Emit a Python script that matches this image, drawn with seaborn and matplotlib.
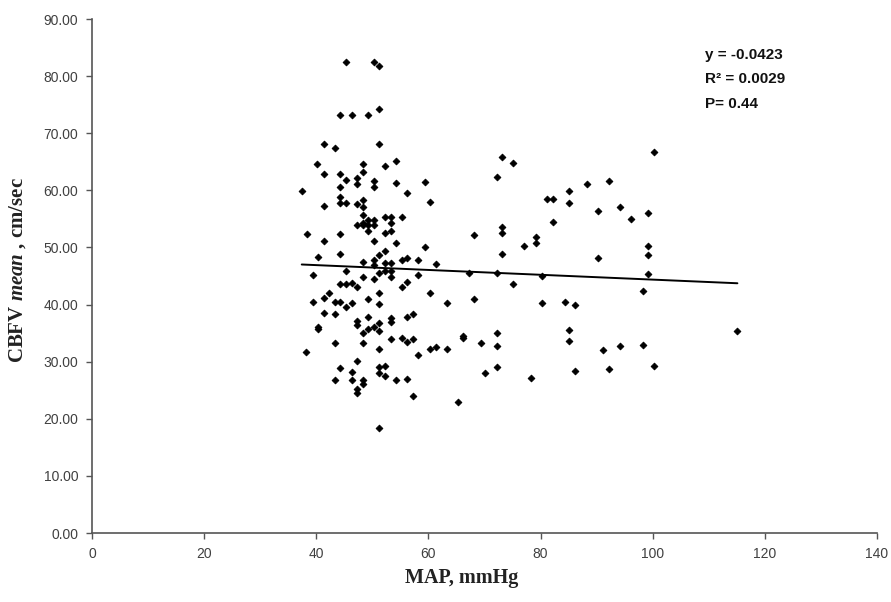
import matplotlib
matplotlib.use("Agg")
import matplotlib.pyplot as plt
import seaborn as sns
import numpy as np
import pandas as pd

# MAP (mmHg) and CBFV mean (cm/sec)
map_mmhg = [
    45.3, 50.2, 51.2, 44.2, 46.3, 49.3, 51.2, 41.3, 43.3, 51.2, 40.2, 48.3, 48.3, 52.3, 54.2,
    41.3, 44.2, 45.3, 47.3, 47.3, 50.2, 50.2, 54.2, 59.3, 44.2, 37.4, 56.2, 44.2, 44.2, 45.3,
    48.3, 47.3, 48.3, 60.3, 41.3, 48.3, 52.3, 53.3, 55.3, 48.3, 49.3, 50.2, 47.3, 48.3, 49.3,
    50.2, 53.3, 49.3, 52.3, 53.3, 38.3, 44.2,
    41.3, 50.2, 54.2, 59.3, 40.3, 44.2, 51.2, 52.3, 48.3, 50.2, 50.2, 52.3, 53.3, 55.3, 56.2,
    58.2, 61.3, 39.4, 45.3, 48.3, 50.2, 51.2, 52.3, 53.3, 53.3, 56.2, 55.3, 58.2, 44.2, 45.3,
    46.3, 47.3, 42.3, 51.2, 60.2, 39.4, 41.3, 43.3, 44.2, 46.3, 45.3, 49.3, 51.2, 41.3, 43.3,
    47.3, 47.3, 49.3, 53.3, 53.3, 56.2, 57.2, 51.2, 49.3, 50.2, 48.3, 51.2, 40.3, 40.3, 43.3,
    48.3, 51.2, 53.3, 55.3, 56.2, 57.2, 38.2, 58.2, 60.2, 61.3, 47.3, 44.2, 46.3, 51.2, 52.3,
    51.2, 52.3, 43.3, 46.3, 48.3, 48.3, 47.3, 47.3, 54.2, 56.2, 57.2, 51.2,
    73.1, 75.1, 72.2, 85.1, 85.1, 81.2, 82.2, 82.2, 68.2, 73.1, 73.1, 77.1, 79.2, 79.2, 73.1,
    67.3, 72.2, 80.2, 75.1, 63.3, 68.2, 80.2, 84.3, 86.1, 85.1, 85.1, 66.2, 66.2, 69.3, 72.2,
    72.2, 63.3, 70.1, 72.2, 78.3, 86.1, 65.3,
    88.2, 92.2, 100.3, 90.2, 94.2, 96.2, 99.1, 99.1, 99.1, 90.2, 99.1, 98.2, 91.1, 94.2, 98.2,
    92.2, 100.3, 115.1,
]
cbfv_mean = [
    82.5, 82.4, 81.8, 73.2, 73.2, 73.2, 74.2, 68.1, 67.5, 68.1, 64.7, 64.6, 63.3, 64.3, 65.1,
    62.8, 62.8, 61.8, 62.1, 61.1, 61.6, 60.6, 61.2, 61.5, 60.6, 59.8, 59.6, 58.9, 57.8, 57.8,
    58.3, 57.6, 57.1, 58.0, 57.3, 55.7, 55.4, 55.4, 55.4, 54.3, 54.8, 54.8, 53.9, 53.9, 53.9,
    53.9, 54.3, 52.8, 52.5, 52.9, 52.3, 52.3,
    51.2, 51.2, 50.8, 50.1, 48.4, 48.9, 48.6, 49.3, 47.5, 47.8, 46.9, 47.2, 47.2, 47.8, 48.1,
    47.8, 47.1, 45.1, 45.9, 44.9, 44.4, 45.6, 45.8, 45.8, 44.9, 44.0, 43.0, 45.1, 43.6, 43.6,
    43.8, 43.0, 42.1, 42.1, 42.1, 40.5, 41.1, 40.5, 40.5, 40.3, 39.5, 40.9, 40.1, 38.6, 38.3,
    37.2, 36.5, 37.8, 37.6, 37.0, 37.9, 38.3, 36.7, 35.8, 36.1, 35.0, 35.3, 36.1, 35.7, 33.3,
    33.2, 32.3, 33.9, 34.1, 33.5, 33.9, 31.7, 31.2, 32.2, 32.6, 30.1, 28.9, 28.2, 29.1, 29.2,
    28.1, 27.5, 26.8, 26.8, 26.8, 26.1, 25.3, 24.5, 26.8, 26.9, 24.0, 18.4,
    65.9, 64.8, 62.4, 59.9, 57.8, 58.5, 58.5, 54.5, 52.1, 53.6, 52.6, 50.3, 51.8, 50.7, 48.9,
    45.6, 45.6, 45.0, 43.6, 40.2, 40.9, 40.2, 40.4, 40.0, 35.5, 33.7, 34.5, 34.2, 33.3, 35.1,
    32.7, 32.3, 28.1, 29.0, 27.1, 28.3, 22.9,
    61.1, 61.7, 66.7, 56.4, 57.0, 55.0, 56.0, 50.3, 48.6, 48.2, 45.4, 42.3, 32.1, 32.7, 32.9,
    28.8, 29.2, 35.4,
]

# Linear fit shown in the reference
fit_intercept = 48.6
fit_slope = -0.0423
annot_lines = ["y = -0.0423", "R\u00b2 = 0.0029", "P= 0.44"]

x_ticks = [0, 20, 40, 60, 80, 100, 120, 140]
y_ticks = [0, 10, 20, 30, 40, 50, 60, 70, 80, 90]

df = pd.DataFrame({"MAP": map_mmhg, "CBFV": cbfv_mean})
xs = np.array([min(map_mmhg), max(map_mmhg)])
fit_df = pd.DataFrame({"MAP": xs, "CBFV": fit_intercept + fit_slope * xs})

sns.set_theme(style="white")
plt.rcParams["font.family"] = ["Liberation Sans", "DejaVu Sans"]
plt.rcParams["mathtext.fontset"] = "custom"
plt.rcParams["mathtext.rm"] = "Liberation Serif:bold"
plt.rcParams["mathtext.bf"] = "Liberation Serif:bold"
plt.rcParams["mathtext.it"] = "Liberation Serif:bold:italic"

fig = plt.figure(figsize=(8.91, 6.02), dpi=100)
ax = fig.add_axes([0.1033, 0.1146, 0.881, 0.8538])

sns.scatterplot(data=df, x="MAP", y="CBFV", ax=ax, marker="D", s=12,
                color="black", edgecolor="black", linewidth=0.6, zorder=3)
sns.lineplot(data=fit_df, x="MAP", y="CBFV", ax=ax, color="black", linewidth=1.4, zorder=2)

ax.set_xlim(0, 140)
ax.set_ylim(0, 90)
ax.set_xticks(x_ticks)
ax.set_yticks(y_ticks)
ax.set_yticklabels([f"{v:.2f}" for v in y_ticks])
ax.tick_params(axis="both", direction="out", length=4, width=1, color="#555555",
               labelsize=10, labelcolor="#404040", pad=6, bottom=True, left=True)
for side in ["top", "right"]:
    ax.spines[side].set_visible(False)
for side in ["left", "bottom"]:
    ax.spines[side].set_color("#555555")
    ax.spines[side].set_linewidth(1.2)

ax.set_xlabel("MAP, mmHg", family="Liberation Serif", fontweight="bold", fontsize=14.5,
              color="#222222")
ax.xaxis.set_label_coords(0.471, -0.068)
ax.set_ylabel(r"CBFV $\mathit{mean}$ , cm/sec", family="Liberation Serif", fontweight="bold",
              fontsize=15, color="#222222")
ax.yaxis.set_label_coords(-0.082, 0.512)

for i, t in enumerate(annot_lines):
    fig.text(0.791, 0.908 - i * 0.04, t, fontsize=11, fontweight="bold", color="#111111",
             va="center", ha="left")

fig.savefig("out.png", dpi=100)
